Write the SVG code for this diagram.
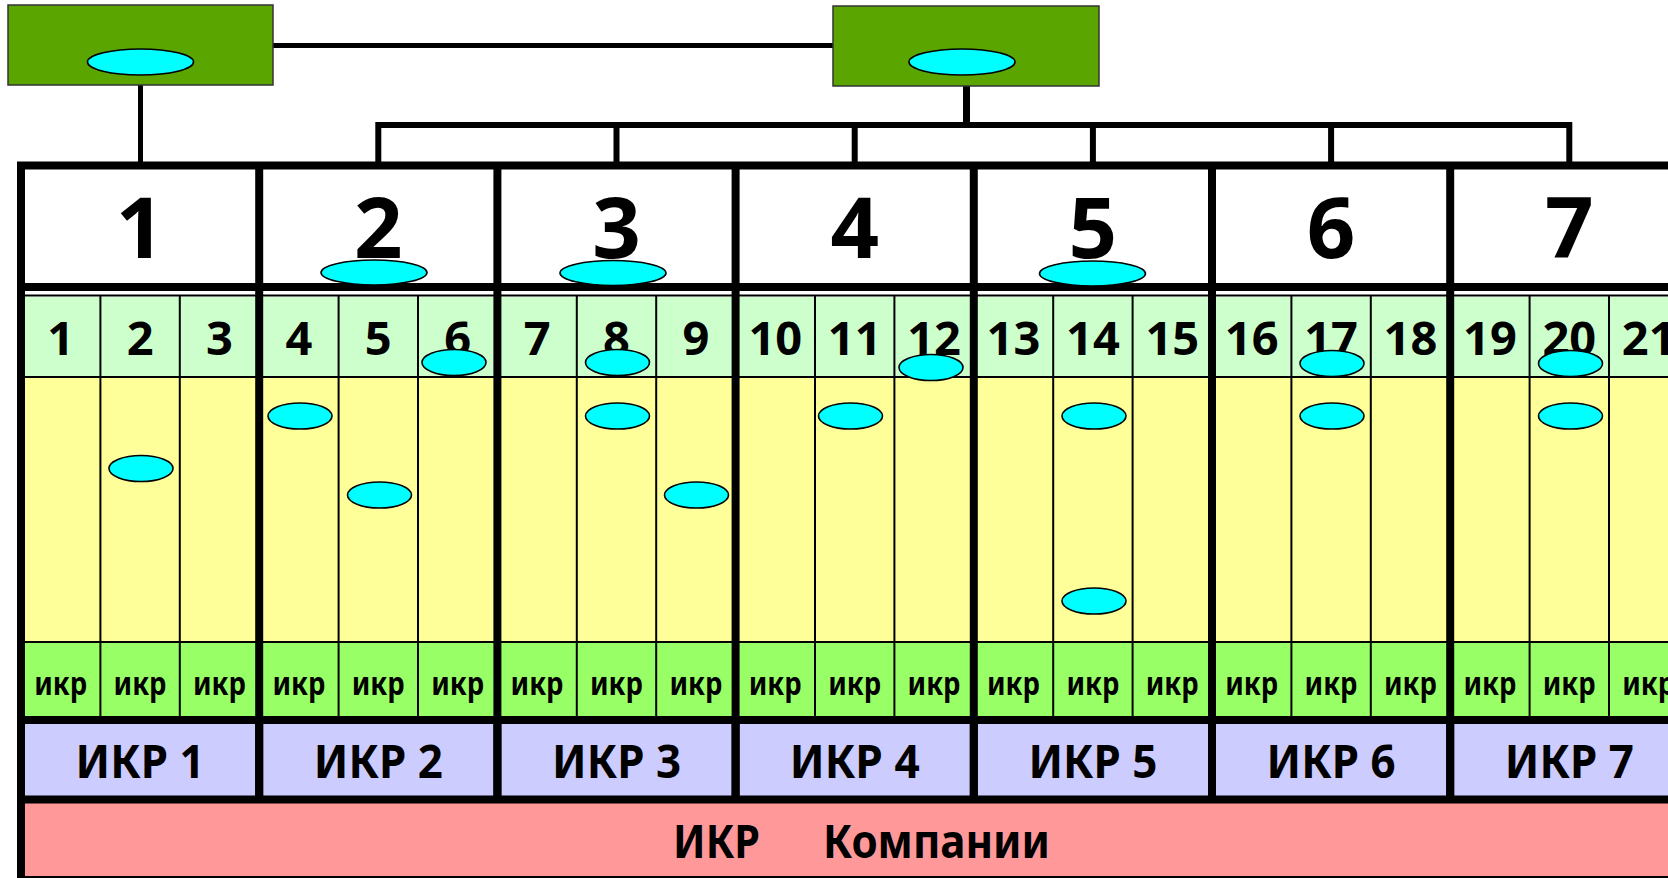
<svg xmlns="http://www.w3.org/2000/svg" width="1668" height="878" viewBox="0 0 1668 878">
<style>
.box{fill:#5AA500;stroke:#333;stroke-width:1.5}
.ov{fill:#00FFFF;stroke:#000;stroke-width:1.6}
.con{stroke:#000;fill:none}
.thick{stroke:#000;stroke-width:8}
.thin{stroke:#000;stroke-width:2}
.t{font-family:"Noto Sans","DejaVu Sans",sans-serif;font-weight:bold;fill:#000;text-anchor:middle}
.big{font-size:85px}
.num{font-size:47px}
.ikr{font-size:32px}
.lab{font-size:47px}
</style>
<rect width="1668" height="878" fill="#fff"/>
<g id="connectors">
<line class="con" x1="273" y1="45.5" x2="833" y2="45.5" stroke-width="5"/>
<line class="con" x1="140.5" y1="85" x2="140.5" y2="163" stroke-width="5"/>
<line class="con" x1="966.5" y1="86" x2="966.5" y2="125" stroke-width="7"/>
<polyline class="con" points="378.3,163 378.3,125 1569.3,125 1569.3,163" stroke-width="6"/>
<line class="con" x1="616.5" y1="125" x2="616.5" y2="163" stroke-width="6"/>
<line class="con" x1="854.7" y1="125" x2="854.7" y2="163" stroke-width="6"/>
<line class="con" x1="1092.9" y1="125" x2="1092.9" y2="163" stroke-width="6"/>
<line class="con" x1="1331.1" y1="125" x2="1331.1" y2="163" stroke-width="6"/>
</g>
<g id="top-left">
<rect class="box" x="8" y="5" width="265" height="80"/>
<ellipse class="ov" cx="140.5" cy="62" rx="53" ry="13"/>
</g>
<g id="top-right">
<rect class="box" x="833" y="6" width="266" height="80"/>
<ellipse class="ov" cx="962" cy="62" rx="53" ry="13"/>
</g>
<g id="table-bg">
<rect x="25" y="169" width="1643" height="115" fill="#fff"/>
<rect x="25" y="297" width="1643" height="80" fill="#CCFFCC"/>
<rect x="25" y="378" width="1643" height="264" fill="#FFFF99"/>
<rect x="25" y="643" width="1643" height="74" fill="#99FF66"/>
<rect x="25" y="724" width="1643" height="72" fill="#CCCCFF"/>
<rect x="25" y="803" width="1643" height="73" fill="#FF9999"/>
</g>
<g id="table-lines">
<line class="thick" x1="17" y1="165.5" x2="1668" y2="165.5" stroke-width="7"/>
<line class="thick" x1="17" y1="287" x2="1668" y2="287" stroke-width="7"/>
<line class="thin" x1="17" y1="295.5" x2="1668" y2="295.5" stroke-width="2.5"/>
<line class="thin" x1="17" y1="377" x2="1668" y2="377"/>
<line class="thin" x1="17" y1="642" x2="1668" y2="642"/>
<line class="thick" x1="17" y1="720" x2="1668" y2="720"/>
<line class="thick" x1="17" y1="799.5" x2="1668" y2="799.5" stroke-width="7"/>
<line class="thin" x1="17" y1="877" x2="1668" y2="877"/>
<line class="thick" x1="21" y1="162" x2="21" y2="878"/>
<g class="thin">
<line x1="100.4" y1="296" x2="100.4" y2="717"/><line x1="179.8" y1="296" x2="179.8" y2="717"/>
<line x1="338.6" y1="296" x2="338.6" y2="717"/><line x1="418" y1="296" x2="418" y2="717"/>
<line x1="576.8" y1="296" x2="576.8" y2="717"/><line x1="656.2" y1="296" x2="656.2" y2="717"/>
<line x1="815" y1="296" x2="815" y2="717"/><line x1="894.4" y1="296" x2="894.4" y2="717"/>
<line x1="1053.2" y1="296" x2="1053.2" y2="717"/><line x1="1132.6" y1="296" x2="1132.6" y2="717"/>
<line x1="1291.4" y1="296" x2="1291.4" y2="717"/><line x1="1370.8" y1="296" x2="1370.8" y2="717"/>
<line x1="1529.6" y1="296" x2="1529.6" y2="717"/><line x1="1609" y1="296" x2="1609" y2="717"/>
</g>
<g class="thick">
<line x1="259.2" y1="162" x2="259.2" y2="803"/>
<line x1="497.4" y1="162" x2="497.4" y2="803"/>
<line x1="735.6" y1="162" x2="735.6" y2="803"/>
<line x1="973.8" y1="162" x2="973.8" y2="803"/>
<line x1="1212" y1="162" x2="1212" y2="803"/>
<line x1="1450.2" y1="162" x2="1450.2" y2="803"/>
</g>
<g class="thick" stroke-width="10">
<line x1="259.2" y1="720" x2="259.2" y2="800"/>
<line x1="497.4" y1="720" x2="497.4" y2="800"/>
<line x1="735.6" y1="720" x2="735.6" y2="800"/>
<line x1="973.8" y1="720" x2="973.8" y2="800"/>
<line x1="1212" y1="720" x2="1212" y2="800"/>
<line x1="1450.2" y1="720" x2="1450.2" y2="800"/>
</g>
</g>
<g id="group-1">
<text class="t big" x="140.1" y="258">1</text>
<text class="t num" x="60.7" y="355">1</text><text class="t num" x="140.1" y="355">2</text><text class="t num" x="219.5" y="355">3</text>
<text class="t ikr" x="60.7" y="695" textLength="53" lengthAdjust="spacingAndGlyphs">икр</text><text class="t ikr" x="140.1" y="695" textLength="53" lengthAdjust="spacingAndGlyphs">икр</text><text class="t ikr" x="219.5" y="695" textLength="53" lengthAdjust="spacingAndGlyphs">икр</text>
<text class="t lab" x="140.1" y="778" textLength="129" lengthAdjust="spacingAndGlyphs">ИКР 1</text>
<ellipse class="ov" cx="141" cy="468.5" rx="32" ry="13"/>
</g>
<g id="group-2">
<text class="t big" x="378.3" y="258">2</text>
<text class="t num" x="298.9" y="355">4</text><text class="t num" x="378.3" y="355">5</text><text class="t num" x="457.7" y="355">6</text>
<text class="t ikr" x="298.9" y="695" textLength="53" lengthAdjust="spacingAndGlyphs">икр</text><text class="t ikr" x="378.3" y="695" textLength="53" lengthAdjust="spacingAndGlyphs">икр</text><text class="t ikr" x="457.7" y="695" textLength="53" lengthAdjust="spacingAndGlyphs">икр</text>
<text class="t lab" x="378.3" y="778" textLength="129" lengthAdjust="spacingAndGlyphs">ИКР 2</text>
<ellipse class="ov" cx="374" cy="272.5" rx="53" ry="12.5"/>
<ellipse class="ov" cx="454" cy="362.5" rx="32" ry="13"/>
<ellipse class="ov" cx="300" cy="416" rx="32" ry="13"/>
<ellipse class="ov" cx="379.5" cy="495" rx="32" ry="13"/>
</g>
<g id="group-3">
<text class="t big" x="616.5" y="258">3</text>
<text class="t num" x="537.1" y="355">7</text><text class="t num" x="616.5" y="355">8</text><text class="t num" x="695.9" y="355">9</text>
<text class="t ikr" x="537.1" y="695" textLength="53" lengthAdjust="spacingAndGlyphs">икр</text><text class="t ikr" x="616.5" y="695" textLength="53" lengthAdjust="spacingAndGlyphs">икр</text><text class="t ikr" x="695.9" y="695" textLength="53" lengthAdjust="spacingAndGlyphs">икр</text>
<text class="t lab" x="616.5" y="778" textLength="129" lengthAdjust="spacingAndGlyphs">ИКР 3</text>
<ellipse class="ov" cx="613" cy="273" rx="53" ry="12.5"/>
<ellipse class="ov" cx="617.5" cy="362.5" rx="32" ry="13"/>
<ellipse class="ov" cx="617.5" cy="416" rx="32" ry="13"/>
<ellipse class="ov" cx="696.5" cy="495" rx="32" ry="13"/>
</g>
<g id="group-4">
<text class="t big" x="854.7" y="258">4</text>
<text class="t num" x="775.3" y="355">10</text><text class="t num" x="854.7" y="355">11</text><text class="t num" x="934.1" y="355">12</text>
<text class="t ikr" x="775.3" y="695" textLength="53" lengthAdjust="spacingAndGlyphs">икр</text><text class="t ikr" x="854.7" y="695" textLength="53" lengthAdjust="spacingAndGlyphs">икр</text><text class="t ikr" x="934.1" y="695" textLength="53" lengthAdjust="spacingAndGlyphs">икр</text>
<text class="t lab" x="854.7" y="778" textLength="130" lengthAdjust="spacingAndGlyphs">ИКР 4</text>
<ellipse class="ov" cx="931" cy="367.5" rx="32" ry="13"/>
<ellipse class="ov" cx="850.5" cy="416" rx="32" ry="13"/>
</g>
<g id="group-5">
<text class="t big" x="1092.9" y="258">5</text>
<text class="t num" x="1013.5" y="355">13</text><text class="t num" x="1092.9" y="355">14</text><text class="t num" x="1172.3" y="355">15</text>
<text class="t ikr" x="1013.5" y="695" textLength="53" lengthAdjust="spacingAndGlyphs">икр</text><text class="t ikr" x="1092.9" y="695" textLength="53" lengthAdjust="spacingAndGlyphs">икр</text><text class="t ikr" x="1172.3" y="695" textLength="53" lengthAdjust="spacingAndGlyphs">икр</text>
<text class="t lab" x="1092.9" y="778" textLength="129" lengthAdjust="spacingAndGlyphs">ИКР 5</text>
<ellipse class="ov" cx="1092.5" cy="273.5" rx="53" ry="12.5"/>
<ellipse class="ov" cx="1094" cy="416" rx="32" ry="13"/>
<ellipse class="ov" cx="1094" cy="601" rx="32" ry="13"/>
</g>
<g id="group-6">
<text class="t big" x="1331.1" y="258">6</text>
<text class="t num" x="1251.7" y="355">16</text><text class="t num" x="1331.1" y="355">17</text><text class="t num" x="1410.5" y="355">18</text>
<text class="t ikr" x="1251.7" y="695" textLength="53" lengthAdjust="spacingAndGlyphs">икр</text><text class="t ikr" x="1331.1" y="695" textLength="53" lengthAdjust="spacingAndGlyphs">икр</text><text class="t ikr" x="1410.5" y="695" textLength="53" lengthAdjust="spacingAndGlyphs">икр</text>
<text class="t lab" x="1331.1" y="778" textLength="129" lengthAdjust="spacingAndGlyphs">ИКР 6</text>
<ellipse class="ov" cx="1332" cy="363.5" rx="32" ry="13"/>
<ellipse class="ov" cx="1332" cy="416" rx="32" ry="13"/>
</g>
<g id="group-7">
<text class="t big" x="1569.3" y="258">7</text>
<text class="t num" x="1489.9" y="355">19</text><text class="t num" x="1569.3" y="355">20</text><text class="t num" x="1648.7" y="355">21</text>
<text class="t ikr" x="1489.9" y="695" textLength="53" lengthAdjust="spacingAndGlyphs">икр</text><text class="t ikr" x="1569.3" y="695" textLength="53" lengthAdjust="spacingAndGlyphs">икр</text><text class="t ikr" x="1648.7" y="695" textLength="53" lengthAdjust="spacingAndGlyphs">икр</text>
<text class="t lab" x="1569.3" y="778" textLength="129" lengthAdjust="spacingAndGlyphs">ИКР 7</text>
<ellipse class="ov" cx="1570.5" cy="363.5" rx="32" ry="13"/>
<ellipse class="ov" cx="1570.5" cy="416" rx="32" ry="13"/>
</g>
<g id="company">
<text class="t lab" y="858" style="text-anchor:start"><tspan x="673" textLength="87" lengthAdjust="spacingAndGlyphs">ИКР</tspan><tspan x="823" textLength="227" lengthAdjust="spacingAndGlyphs">Компании</tspan></text>
</g>
</svg>
